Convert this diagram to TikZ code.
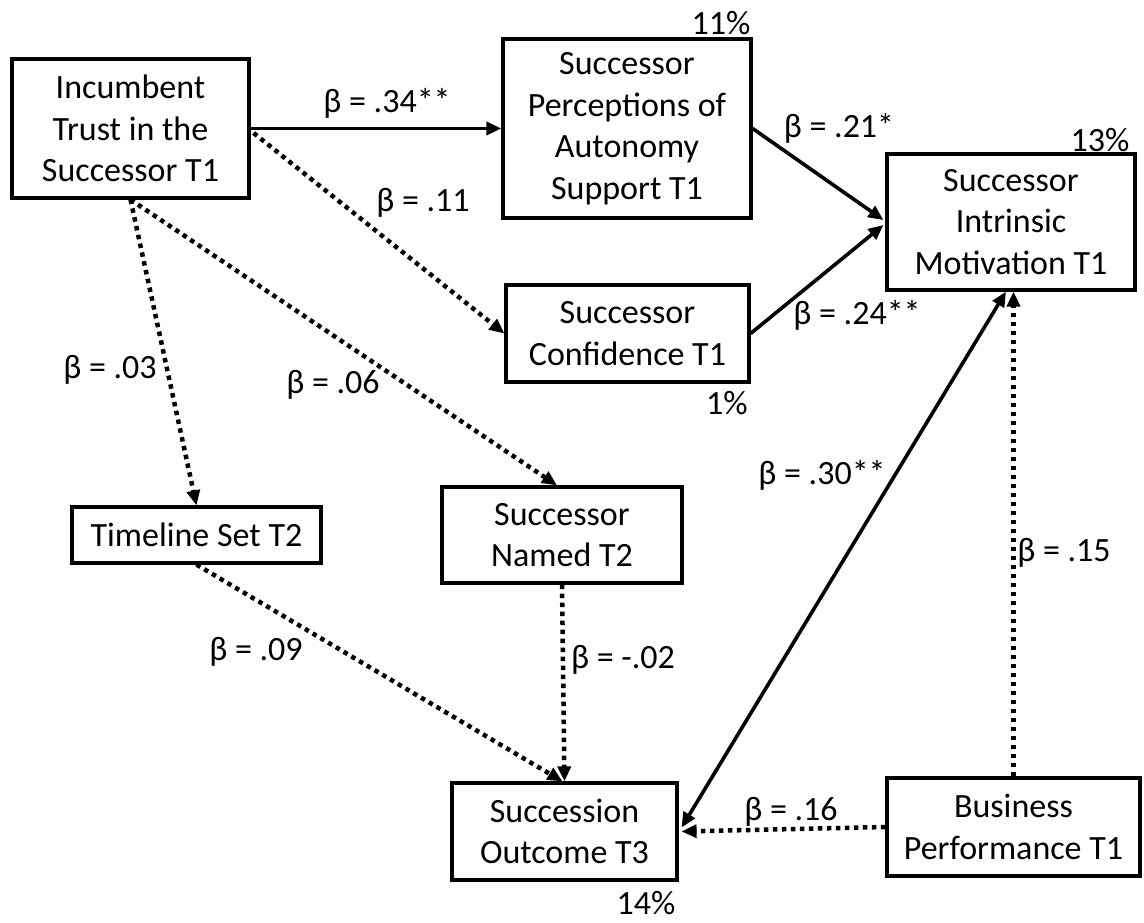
\documentclass[tikz,border=0pt]{standalone}
\usepackage{fontspec}
\setmainfont{Carlito}
\usetikzlibrary{arrows.meta,calc}
\begin{document}
\begin{tikzpicture}[x=1pt,y=-1pt,
  box/.style={draw,line width=3.2pt,inner sep=0pt,align=center,font=\fontsize{34}{41.5}\selectfont},
  lbl/.style={inner sep=0pt,font=\fontsize{34}{41.5}\selectfont},
  tip/.style={-{Triangle[length=15pt,width=13pt]}},
  solidarr/.style={line width=3.6pt,tip},
  dotarr/.style={line width=4.5pt,dash pattern=on 4.5pt off 4.5pt,tip},
]
\useasboundingbox (0,0) rectangle (1144,923);
% boxes
\node[box,minimum width=237pt,minimum height=139pt] (inc) at (130.5,128.5) {Incumbent\\Trust in the\\Successor T1};
\node[box,minimum width=248pt,minimum height=179pt] (perc) at (627,128.5) {Successor\\Perceptions of\\Autonomy\\Support T1};
\node[box,minimum width=248pt,minimum height=136pt] (intr) at (1011,222) {Successor\\Intrinsic\\Motivation T1};
\node[box,minimum width=243pt,minimum height=97pt] (conf) at (627.5,333.5) {Successor\\Confidence T1};
\node[box,minimum width=249pt,minimum height=56pt] (time) at (196.5,535) {Timeline Set T2};
\node[box,minimum width=240pt,minimum height=96pt] (named) at (562,535) {Successor\\Named T2};
\node[box,minimum width=225pt,minimum height=97pt] (out) at (564.5,831.5) {Succession\\Outcome T3};
\node[box,minimum width=253pt,minimum height=98pt] (bus) at (1013.5,827) {Business\\Performance T1};
% percentages
\node[lbl] (p11) at (721,23) {11\%};
\node[lbl] (p13) at (1100,140) {13\%};
\node[lbl] (p1) at (727,403) {1\%};
\node[lbl] (p14) at (646,903) {14\%};
% connectors
\draw[solidarr] (inc.east) -- (inc.east -| perc.west);
\draw[dotarr] ($(inc.east)+(3,4.5)$) -- (conf.west);
\draw[dotarr] (inc.south) -- (time.north);
\draw[dotarr] (inc.south) -- ($(named.north)+(-5,0)$);
\draw[solidarr] (perc.east) -- ($(intr.west)+(-2,-2)$);
\draw[solidarr] (conf.east) -- ($(intr.west)+(-2,3)$);
\draw[dotarr] (bus.north) -- (bus.north |- intr.south);
\draw[solidarr,{Triangle[length=15pt,width=13pt]}-{Triangle[length=15pt,width=13pt]}] ($(intr.south)+(-5,0)$) -- ($(out.east)+(3,-4)$);
\draw[dotarr] (time.south) -- ($(out.north)+(-2,0)$);
\draw[dotarr] (named.south) -- (out.north);
\draw[dotarr] (bus.west) -- ($(out.east)+(3,0)$);
% labels
\node[lbl] (l34) at (387,103) {β = .34**};
\node[lbl] (l11) at (423,203) {β = .11};
\node[lbl] (l21) at (839,128) {β = .21*};
\node[lbl] (l24) at (857,315) {β = .24**};
\node[lbl] (l03) at (110,370) {β = .03};
\node[lbl] (l06) at (333,385) {β = .06};
\node[lbl] (l30) at (822,475) {β = .30**};
\node[lbl] (l15) at (1064,553) {β = .15};
\node[lbl] (l09) at (256,652) {β = .09};
\node[lbl] (l02) at (623,660) {β = -.02};
\node[lbl] (l16) at (791,812) {β = .16};
\end{tikzpicture}
\end{document}
